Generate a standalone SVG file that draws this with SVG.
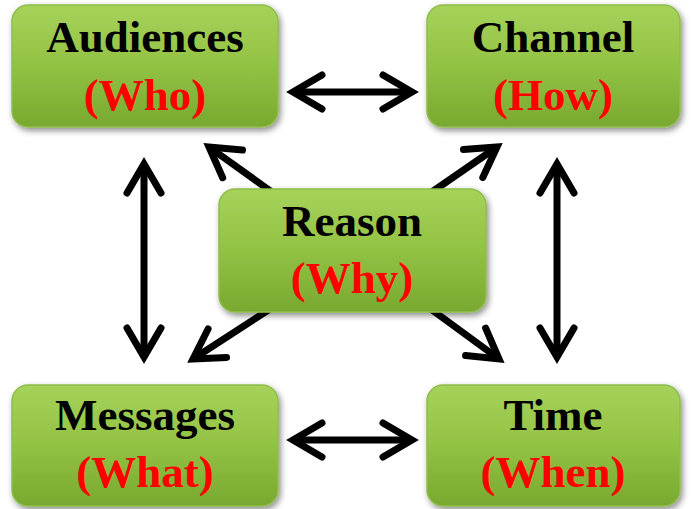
<svg xmlns="http://www.w3.org/2000/svg" width="691" height="509" viewBox="0 0 691 509">
<style>
.box{fill:url(#g);stroke:#8fbd4c;stroke-width:1.5;filter:url(#sh)}
.t{font-family:"Liberation Serif","Times New Roman",serif;font-weight:bold;font-size:45px;text-anchor:middle}
.k{fill:#000}
.r{fill:#ff0000}
.a{stroke:#000;stroke-width:7;fill:none;marker-start:url(#h);marker-end:url(#h)}
.d{stroke:#000;stroke-width:7;fill:none;marker-end:url(#h)}
</style>
<defs>
<linearGradient id="g" x1="0" y1="0" x2="0" y2="1">
<stop offset="0" stop-color="#a6d25a"/>
<stop offset="0.5" stop-color="#92c243"/>
<stop offset="1" stop-color="#78a82f"/>
</linearGradient>
<filter id="sh" x="-10%" y="-10%" width="125%" height="130%">
<feDropShadow dx="2" dy="3" stdDeviation="3" flood-color="#000" flood-opacity="0.45"/>
</filter>
<marker id="h" markerUnits="userSpaceOnUse" orient="auto-start-reverse" markerWidth="60" markerHeight="60" viewBox="-40 -30 60 60" refX="0" refY="0" overflow="visible">
<path d="M-29,-17 L0,0 L-29,17" fill="none" stroke="#000" stroke-width="7" stroke-linecap="round" stroke-linejoin="miter"/>
</marker>
</defs>
<rect width="691" height="509" fill="#fff"/>
<g id="connectors">
<line class="a" x1="293" y1="92" x2="412" y2="92"/>
<line class="a" x1="293" y1="440" x2="412" y2="440"/>
<line class="a" x1="144" y1="164" x2="144" y2="357"/>
<line class="a" x1="557" y1="164" x2="557" y2="357"/>
<line class="d" x1="290" y1="205" x2="209" y2="147"/>
<line class="d" x1="413" y1="205" x2="497" y2="147"/>
<line class="d" x1="290" y1="296" x2="193" y2="359"/>
<line class="d" x1="413" y1="296" x2="499" y2="359"/>
</g>
<g id="audiences">
<rect class="box" x="12" y="5" width="266" height="122" rx="16"/>
<text class="t k" x="145" y="52">Audiences</text>
<text class="t r" x="145" y="110">(Who)</text>
</g>
<g id="channel">
<rect class="box" x="427" y="5" width="253" height="122" rx="16"/>
<text class="t k" x="553" y="52">Channel</text>
<text class="t r" x="553" y="110">(How)</text>
</g>
<g id="reason">
<rect class="box" x="219" y="189" width="267" height="123" rx="16"/>
<text class="t k" x="352" y="236">Reason</text>
<text class="t r" x="352" y="293">(Why)</text>
</g>
<g id="messages">
<rect class="box" x="12" y="385" width="266" height="121" rx="16"/>
<text class="t k" x="145" y="430">Messages</text>
<text class="t r" x="145" y="487">(What)</text>
</g>
<g id="time">
<rect class="box" x="427" y="385" width="253" height="121" rx="16"/>
<text class="t k" x="553" y="430">Time</text>
<text class="t r" x="553" y="487">(When)</text>
</g>
</svg>
